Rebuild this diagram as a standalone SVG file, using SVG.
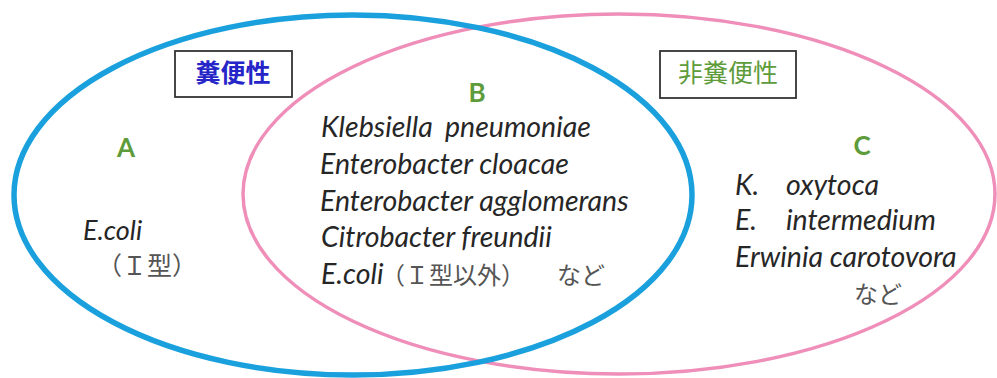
<svg xmlns="http://www.w3.org/2000/svg" width="997" height="378" viewBox="0 0 997 378">
<style>
.sp{font-family:Lato,"Open Sans","Noto Sans CJK JP",sans-serif;font-style:italic;font-size:28.5px;fill:#262626}
.jp{font-family:"Noto Sans CJK JP",sans-serif;font-style:normal;font-size:24px;fill:#555555}
.let{font-family:Lato,"Noto Sans",sans-serif;font-weight:bold;font-size:26px;fill:#5E9B3A;text-anchor:middle}
.box{fill:#ffffff;stroke:#333333;stroke-width:1.8}
</style>
<rect width="997" height="378" fill="#ffffff"/>
<g id="set-C">
<ellipse cx="619" cy="194" rx="376" ry="180" fill="none" stroke="#EF8EB9" stroke-width="3.5"/>
</g>
<g id="set-A">
<ellipse cx="353" cy="195" rx="339" ry="180" fill="none" stroke="#1AA1DD" stroke-width="5.5"/>
</g>
<g id="label-fecal">
<rect class="box" x="175" y="51" width="117" height="46"/>
<text x="233" y="82" text-anchor="middle" font-family="'Noto Sans CJK JP',sans-serif" font-weight="bold" font-size="25" fill="#2525C8">糞便性</text>
</g>
<g id="label-nonfecal">
<rect class="box" x="660" y="51" width="136" height="47"/>
<text x="728" y="82" text-anchor="middle" font-family="'Noto Sans CJK JP',sans-serif" font-size="25" fill="#5E9B3A">非糞便性</text>
</g>
<g id="region-A">
<text class="let" x="126" y="157">A</text>
<text class="sp" x="83" y="240" style="font-size:27px">E.coli</text>
<text class="jp" x="97" y="275" style="font-size:25px">（Ｉ型）</text>
</g>
<g id="region-B">
<text class="let" x="477" y="102">B</text>
<text class="sp" x="321" y="137">Klebsiella<tspan x="445">pneumoniae</tspan></text>
<text class="sp" x="320" y="174">Enterobacter cloacae</text>
<text class="sp" x="320" y="211">Enterobacter agglomerans</text>
<text class="sp" x="321" y="247">Citrobacter freundii</text>
<text class="sp" x="321" y="284">E.coli<tspan class="jp" x="381">（Ｉ型以外）</tspan><tspan class="jp" x="557">など</tspan></text>
</g>
<g id="region-C">
<text class="let" x="862" y="155">C</text>
<text class="sp" x="735" y="195">K.<tspan x="786">oxytoca</tspan></text>
<text class="sp" x="735" y="230">E.<tspan x="786">intermedium</tspan></text>
<text class="sp" x="735" y="267">Erwinia carotovora</text>
<text class="jp" x="854" y="303">など</text>
</g>
</svg>
